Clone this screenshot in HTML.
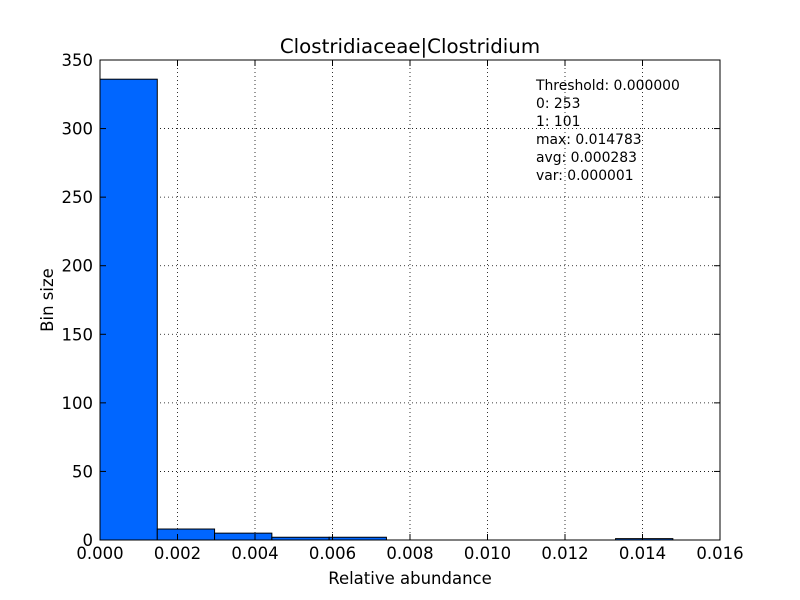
<!DOCTYPE html>
<html><head><meta charset="utf-8"><style>body{margin:0;background:#fff}svg{display:block;font-family:"DejaVu Sans","Liberation Sans",sans-serif}</style></head>
<body>
<svg id="chart" width="800" height="600">
<rect width="800" height="600" fill="#fff"/>
<g id="grid"></g><g id="bars"></g><g id="ticks"></g>
<rect x="100" y="60" width="620" height="480" fill="none" stroke="#000"/>
<text x="410" y="53" font-size="19.8" text-anchor="middle">Clostridiaceae|Clostridium</text>
<text x="410" y="584" font-size="16.5" text-anchor="middle">Relative abundance</text>
<text x="53" y="300" font-size="16.5" text-anchor="middle" transform="rotate(-90 53 300)">Bin size</text>
<g font-size="13.9">
<text x="536" y="90">Threshold: 0.000000</text><text x="536" y="108">0: 253</text><text x="536" y="126">1: 101</text><text x="536" y="144">max: 0.014783</text><text x="536" y="162">avg: 0.000283</text><text x="536" y="180">var: 0.000001</text>
</g>
</svg>
<script>
const counts=[336,8,5,2,2,0,0,0,0,1];
const binMax=0.014783;
const xTicks=[0,0.002,0.004,0.006,0.008,0.010,0.012,0.014,0.016];
const yTicks=[0,50,100,150,200,250,300,350];
const X=v=>100+v/0.016*620, Y=v=>540-v/350*480;
const ns="http://www.w3.org/2000/svg";
function mk(t,a,p){const e=document.createElementNS(ns,t);for(const k in a)e.setAttribute(k,a[k]);p.appendChild(e);return e;}
const grid=document.getElementById('grid'),bars=document.getElementById('bars'),ticks=document.getElementById('ticks');
const w=binMax/counts.length;
counts.forEach((c,i)=>{if(!c)return;const x0=X(i*w),x1=X((i+1)*w);
const r=mk('rect',{x:x0,y:Y(c),width:x1-x0,height:540-Y(c),fill:'#0066ff',stroke:'#000','stroke-width':1},bars);

});
xTicks.forEach(v=>{const x=X(v);
if(v>0&&v<0.016){const g=mk('line',{x1:x,x2:x,y1:60,y2:540,stroke:'#000','stroke-dasharray':'1,3','stroke-width':0.8},grid);}
mk('line',{x1:x,x2:x,y1:540,y2:534,stroke:'#000'},ticks);mk('line',{x1:x,x2:x,y1:60,y2:66,stroke:'#000'},ticks);
const t=mk('text',{x:x,y:559,'font-size':16.5,'text-anchor':'middle'},ticks);t.textContent=v.toFixed(3);
});
yTicks.forEach(v=>{const y=Y(v);
if(v>0&&v<350){const g=mk('line',{x1:100,x2:720,y1:y,y2:y,stroke:'#000','stroke-dasharray':'1,3','stroke-width':0.8},grid);}
mk('line',{x1:100,x2:106,y1:y,y2:y,stroke:'#000'},ticks);mk('line',{x1:714,x2:720,y1:y,y2:y,stroke:'#000'},ticks);
const t=mk('text',{x:93,y:y+6,'font-size':16.5,'text-anchor':'end'},ticks);t.textContent=v;
});
</script>
</body></html>
